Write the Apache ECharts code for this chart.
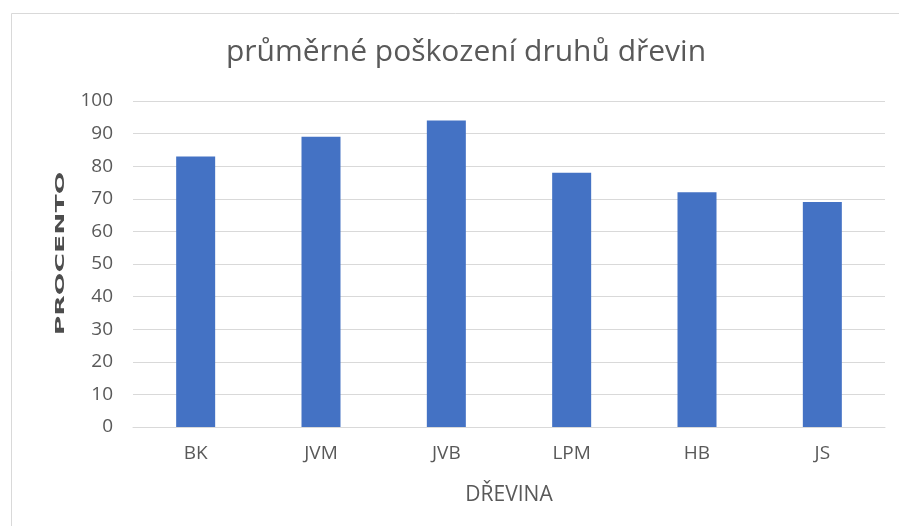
<!DOCTYPE html>
<html><head><meta charset="utf-8">
<script src="https://cdn.jsdelivr.net/npm/echarts@6/dist/echarts.min.js"></script>
<style>html,body{margin:0;padding:0;background:#fff}#c{width:899px;height:526px}</style>
</head><body><div id="c"></div>
<script>
const categories = ['BK', 'JVM', 'JVB', 'LPM', 'HB', 'JS'];
const values = [83, 89, 94, 78, 72, 69];
const yTicks = [0, 10, 20, 30, 40, 50, 60, 70, 80, 90, 100];

const chart = echarts.init(document.getElementById('c'), null, {renderer: 'canvas'});
const FONT = 'Open Sans';
chart.setOption({
  backgroundColor: '#fff',
  animation: false,
  graphic: [{
    type: 'rect', left: 9, top: 11, z: -1,
    shape: {width: 1000, height: 1000},
    style: {fill: 'none', stroke: '#d9d9d9', lineWidth: 1}
  }, {
    type: 'text', x: 61, y: 253.5, rotation: Math.PI / 2, scaleX: 2.22, scaleY: 1,
    style: {text: 'PROCENTO', font: 'bold 12px "DejaVu Sans"', fill: '#4d4d4d',
            align: 'center', verticalAlign: 'middle'}
  }],
  title: {
    text: 'průměrné poškození druhů dřevin',
    left: 461, top: 32, textAlign: 'center',
    textStyle: {fontFamily: FONT, fontSize: 30, fontWeight: 'normal', color: '#595959'}
  },
  grid: {left: 133, right: 14, top: 101, bottom: 99},
  xAxis: {
    type: 'category', data: categories,
    name: 'DŘEVINA', nameLocation: 'middle', nameGap: 58,
    nameTextStyle: {fontFamily: FONT, fontSize: 21, color: '#595959'},
    axisLine: {lineStyle: {color: '#d9d9d9', width: 1}},
    axisTick: {show: false},
    axisLabel: {fontFamily: FONT, fontSize: 19, color: '#595959', margin: 17}
  },
  yAxis: {
    type: 'value', min: yTicks[0], max: yTicks[yTicks.length - 1], interval: 10,
    axisLine: {show: false}, axisTick: {show: false},
    splitLine: {lineStyle: {color: '#d9d9d9', width: 1}},
    axisLabel: {fontFamily: FONT, fontSize: 19, color: '#595959', margin: 20}
  },
  series: [{
    type: 'bar', data: values, barWidth: 39,
    itemStyle: {color: '#4472C4'}
  }]
});
</script></body></html>
